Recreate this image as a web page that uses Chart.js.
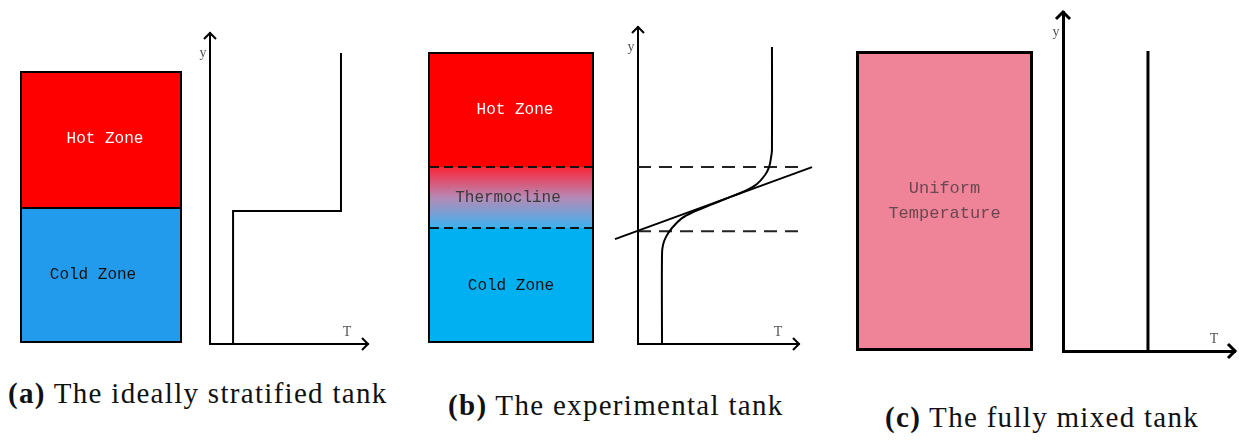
<!DOCTYPE html>
<html>
<head>
<meta charset="utf-8">
<script src="https://cdn.jsdelivr.net/npm/chart.js@4.4.0/dist/chart.umd.min.js"></script>
<style>
  body { margin: 0; background: #fff; }
  #fig { position: relative; width: 1239px; height: 441px; overflow: hidden; background: #fff; }
  #fig canvas { position: absolute; }
  .cap { position: absolute; font-family: "Liberation Serif", serif; font-size: 29px; line-height: 29px; letter-spacing: 1.3px; color: #111; white-space: nowrap; }
</style>
</head>
<body>
<div id="fig">
  <canvas id="tankA" width="162" height="272" style="left:20px;top:71px"></canvas>
  <canvas id="profA" width="190" height="340" style="left:190px;top:20px"></canvas>
  <canvas id="tankB" width="166" height="291" style="left:428px;top:52px"></canvas>
  <canvas id="profB" width="230" height="345" style="left:600px;top:15px"></canvas>
  <canvas id="tankC" width="177" height="300" style="left:856px;top:51px"></canvas>
  <canvas id="profC" width="199" height="370" style="left:1040px;top:0px"></canvas>
  <div class="cap" style="left:8px;top:379px"><b>(a)</b> The ideally stratified tank</div>
  <div class="cap" style="left:448px;top:391px"><b>(b)</b> The experimental tank</div>
  <div class="cap" style="left:885px;top:403px"><b>(c)</b> The fully mixed tank</div>
</div>
<script>
// zone heights, as % of tank height (bottom to top)
const zonesA = [50, 50];
const zoneNamesA = ['Cold Zone', 'Hot Zone'];
const zonesB = [39.5, 21, 39.5];
const zoneNamesB = ['Cold Zone', 'Thermocline', 'Hot Zone'];
const zonesC = [100];
const zoneNamesC = [['Uniform', 'Temperature']];

// temperature profiles: T (x) against height y, both 0..100
const profileA_T = [14.6, 14.6, 82.9, 82.9];
const profileA_y = [0, 42.8, 42.8, 93.6];

const profileB_T = [14.9, 14.9, 15.5, 17.4, 21.1, 27.3, 34.2, 44.7, 55.9, 66.5, 73.9, 78.9, 81.4, 82.6, 83.2, 83.2];
const profileB_y = [0, 28.1, 31.2, 33.8, 36.6, 39.7, 41.6, 43.8, 46.1, 48.3, 50.5, 53.3, 55.8, 58.7, 61.2, 93.7];
const tangentB_T = [-14.3, 108.1];
const tangentB_y = [33.1, 55.8];
const limitsB_y = [35.6, 55.8];
const limitsB_T = [0, 100.6];

const profileC_T = [49.4, 49.4];
const profileC_y = [0, 88.5];

const toPoints = (xs, ys) => xs.map((x, i) => ({ x: x, y: ys[i] }));

// zone names written in the middle of each bar
const zoneLabels = {
  id: 'zoneLabels',
  afterDatasetsDraw(chart) {
    const c = chart.ctx;
    chart.data.datasets.forEach((ds, i) => {
      if (!ds.text) return;
      const p = chart.getDatasetMeta(i).data[0].getCenterPoint();
      const lines = Array.isArray(ds.text) ? ds.text : [ds.text];
      c.save();
      c.font = (ds.textSize || 16) + 'px "Liberation Mono", monospace';
      c.fillStyle = ds.textColor;
      c.textAlign = 'center';
      c.textBaseline = 'middle';
      const lh = (ds.textSize || 16) * 1.5;
      lines.forEach((t, k) => {
        c.fillText(t, p.x + (ds.textDx || 0), p.y + (k - (lines.length - 1) / 2) * lh);
      });
      c.restore();
    });
  }
};

// dashed borders between zones
const zoneEdges = {
  id: 'zoneEdges',
  afterDatasetsDraw(chart, args, opts) {
    if (!opts.values) return;
    const c = chart.ctx;
    const { left, right } = chart.chartArea;
    c.save();
    c.strokeStyle = '#111';
    c.lineWidth = 2;
    c.setLineDash([9, 5]);
    opts.values.forEach(v => {
      const py = chart.scales.y.getPixelForValue(v);
      c.beginPath();
      c.moveTo(left + 2, py);
      c.lineTo(right - 2, py);
      c.stroke();
    });
    c.restore();
  }
};

// open arrow heads and the T / y letters on the axes
const axisArrows = {
  id: 'axisArrows',
  afterDraw(chart, args, opts) {
    const c = chart.ctx;
    const { left, right, top, bottom } = chart.chartArea;
    const s = opts.size || 6;
    c.save();
    c.strokeStyle = '#000';
    c.lineWidth = opts.width || 2;
    c.lineJoin = 'miter';
    c.beginPath();
    c.moveTo(left - s, top + s); c.lineTo(left, top); c.lineTo(left + s, top + s);
    c.moveTo(right - s, bottom - s); c.lineTo(right, bottom); c.lineTo(right - s, bottom + s);
    c.stroke();
    c.fillStyle = '#555';
    c.font = '14px "Liberation Serif", serif';
    c.textAlign = 'center';
    c.textBaseline = 'middle';
    c.fillText('y', left - 7, top + 20);
    c.fillText('T', right - 21, bottom - 12);
    c.restore();
  }
};

function makeTank(id, zones, datasetsStyle, edges) {
  return new Chart(document.getElementById(id), {
    type: 'bar',
    data: {
      labels: ['tank'],
      datasets: zones.map((v, i) => Object.assign({ data: [v], borderColor: '#000', borderSkipped: false, inflateAmount: 0 }, datasetsStyle[i]))
    },
    options: {
      responsive: false,
      animation: false,
      layout: { padding: 0 },
      datasets: { bar: { barPercentage: 1, categoryPercentage: 1 } },
      scales: {
        x: { stacked: true, display: false },
        y: { stacked: true, display: false, min: 0, max: 100 }
      },
      plugins: { legend: { display: false }, tooltip: { enabled: false }, zoneEdges: { values: edges } }
    },
    plugins: [zoneLabels, zoneEdges]
  });
}

function makeProfile(id, datasets, padding, lw) {
  const axis = {
    type: 'linear', min: 0, max: 100,
    grid: { display: false, drawTicks: false },
    ticks: { display: false },
    border: { display: true, color: '#000', width: lw }
  };
  return new Chart(document.getElementById(id), {
    type: 'scatter',
    data: { datasets: datasets.map(ds => Object.assign({ borderColor: '#000', backgroundColor: '#000' }, ds)) },
    options: {
      responsive: false,
      animation: false,
      layout: { padding: padding },
      datasets: { scatter: { showLine: true, pointRadius: 0, clip: false } },
      scales: { x: axis, y: Object.assign({}, axis) },
      plugins: { legend: { display: false }, tooltip: { enabled: false }, axisArrows: { size: lw > 2 ? 7 : 6, width: lw } }
    },
    plugins: [axisArrows]
  });
}

function thermoGradient(ctx) {
  const chart = ctx.chart;
  if (!chart.chartArea) return '#b48ab8';
  const y = chart.scales.y;
  const g = chart.ctx.createLinearGradient(0, y.getPixelForValue(zonesB[0] + zonesB[1]), 0, y.getPixelForValue(zonesB[0]));
  g.addColorStop(0, '#fb2436');
  g.addColorStop(0.5, '#b68ab6');
  g.addColorStop(1, '#3db2ef');
  return g;
}

// (a) ideally stratified
makeTank('tankA', zonesA, [
  { backgroundColor: '#239bec', borderWidth: 2, text: zoneNamesA[0], textColor: '#111', textDx: -8 },
  { backgroundColor: '#ff0000', borderWidth: { top: 2, left: 2, right: 2, bottom: 0 }, text: zoneNamesA[1], textColor: '#fff', textDx: 4 }
]);
makeProfile('profA', [
  { data: toPoints(profileA_T, profileA_y), borderWidth: 2 }
], { left: 20, top: 13, right: 12, bottom: 16 }, 2);

// (b) experimental
makeTank('tankB', zonesB, [
  { backgroundColor: '#00b0f0', borderWidth: { top: 0, left: 2, right: 2, bottom: 2 }, text: zoneNamesB[0], textColor: '#111' },
  { backgroundColor: thermoGradient, borderWidth: { top: 0, left: 2, right: 2, bottom: 0 }, text: zoneNamesB[1], textColor: '#3a3a3a', textDx: -3 },
  { backgroundColor: '#ff0000', borderWidth: { top: 2, left: 2, right: 2, bottom: 0 }, text: zoneNamesB[2], textColor: '#fff', textDx: 4 }
], [zonesB[0], zonesB[0] + zonesB[1]]);
makeProfile('profB', [
  { data: toPoints(profileB_T, profileB_y), borderWidth: 2, tension: 0.35 },
  { data: toPoints(tangentB_T, tangentB_y), borderWidth: 2 },
  { data: toPoints(limitsB_T, [limitsB_y[0], limitsB_y[0]]), borderWidth: 2, borderDash: [13, 8], borderColor: '#222' },
  { data: toPoints(limitsB_T, [limitsB_y[1], limitsB_y[1]]), borderWidth: 2, borderDash: [13, 8], borderColor: '#222' }
], { left: 38, top: 12, right: 31, bottom: 16 }, 2);

// (c) fully mixed
makeTank('tankC', zonesC, [
  { backgroundColor: '#ef8397', borderWidth: 3, text: zoneNamesC[0], textColor: '#6b4752', textSize: 17 }
]);
makeProfile('profC', [
  { data: toPoints(profileC_T, profileC_y), borderWidth: 3 }
], { left: 23, top: 12, right: 4, bottom: 19 }, 3);
</script>
</body>
</html>
